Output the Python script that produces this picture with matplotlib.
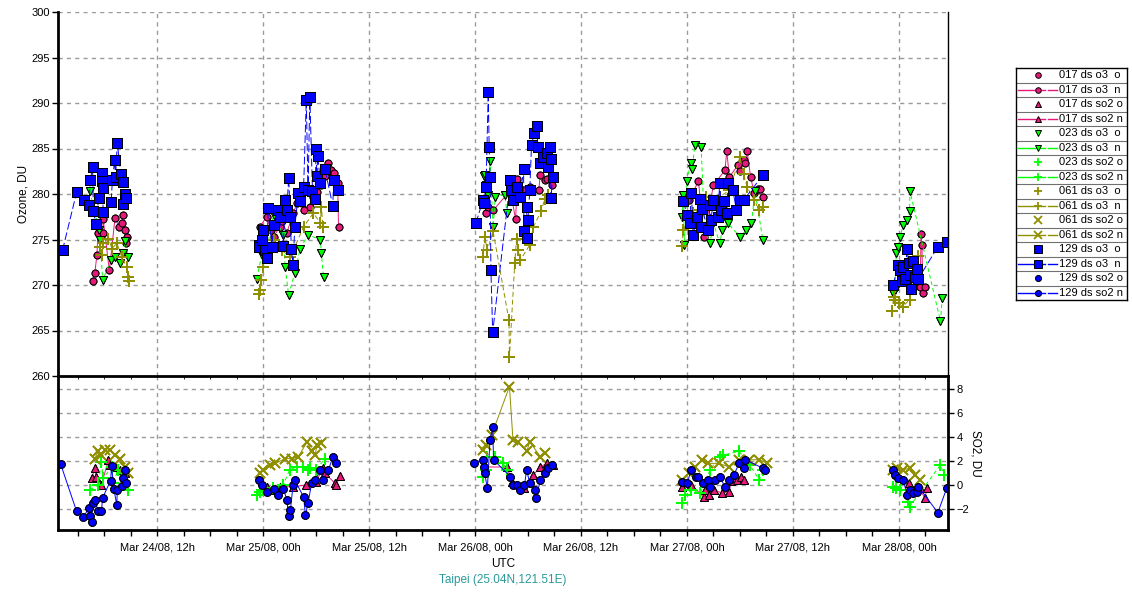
import numpy as np
import matplotlib
matplotlib.use('Agg')
import matplotlib.pyplot as plt

plt.rcParams['font.family'] = ['Liberation Sans', 'DejaVu Sans']

# time axis: hours since Mar 24/08 00h UTC
o3_017_t = [4.7, 4.95, 5.2, 5.3, 5.85, 5.9, 6.6, 7.25, 7.7, 8.0, 8.2, 8.4, 8.5, 8.55,
            23.65, 24.4, 24.9, 25.2, 25.9, 26.2, 26.7, 27.4, 27.9, 28.6, 29.3, 29.7, 30.1, 30.6, 31.0, 31.4, 31.65, 32.0, 32.45, 32.55,
            49.3, 49.5, 50.05, 52.0, 52.6, 52.8, 53.5, 54.2, 55.2, 55.4, 55.9, 56.1, 56.7,
            72.2, 73.3, 73.9, 75.0, 76.3, 76.5, 76.8, 77.8, 78.0, 78.4, 78.6, 78.8, 79.2, 79.6, 80.0, 80.3, 80.6,
            97.7, 98.4, 98.5, 98.6, 98.7, 98.9]
o3_017_v = [270.4, 271.3, 273.3, 275.7, 275.7, 277.3, 271.6, 277.4, 276.4, 276.8, 277.7, 276.0, 274.6, 275.3,
            276.4, 277.5, 276.0, 275.3, 276.4, 277.0, 275.7, 277.9, 279.0, 278.2, 278.6, 279.7, 280.2, 281.0, 282.0, 283.4, 282.6, 282.3, 281.2, 276.4,
            277.9, 278.6, 278.2, 280.4, 277.2, 281.7, 280.4, 280.8, 280.4, 282.1, 281.5, 281.7, 281.0,
            279.3, 281.4, 275.3, 281.0, 282.6, 284.7, 281.9, 283.2, 282.5, 283.7, 283.4, 284.7, 281.9, 280.1, 280.6, 280.6, 279.7,
            272.7, 269.8, 275.6, 274.4, 269.1, 269.8]

o3_023_t = [4.4, 5.45, 5.55, 5.85, 6.75, 7.25, 7.8, 8.2, 8.4, 8.75,
            23.3, 23.85, 24.4, 25.2, 26.3, 26.5, 26.9, 27.6, 28.2, 29.1, 30.5, 30.6, 30.85,
            49.0, 49.1, 49.2, 49.5, 49.7, 50.05, 50.3, 51.4, 51.6,
            71.4, 71.6, 71.7, 72.0, 72.4, 72.6, 72.9, 73.6, 74.0, 74.6, 75.0, 75.7, 76.0, 76.6, 78.0, 78.7, 79.3, 79.7, 80.6,
            95.3, 95.5, 95.7, 95.9, 96.1, 96.5, 96.9, 97.2, 97.25, 100.7, 100.9]
o3_023_v = [280.3, 276.0, 275.0, 270.5, 272.7, 273.1, 272.4, 273.5, 274.8, 273.1,
            270.7, 273.3, 273.8, 277.7, 275.5, 272.0, 268.9, 271.3, 274.0, 275.5, 275.0, 273.5, 270.9,
            282.0, 282.1, 281.0, 279.9, 283.6, 276.4, 279.7, 279.9, 277.9,
            277.5, 279.9, 274.4, 281.4, 283.4, 282.8, 285.4, 285.2, 276.0, 274.6, 276.8, 274.6, 276.0, 276.8, 275.3, 276.0, 276.8, 280.3, 274.9,
            269.1, 269.5, 273.5, 274.2, 275.3, 276.6, 277.1, 278.1, 280.3, 266.0, 268.6]

o3_061_t = [5.55, 5.75, 5.9, 6.5, 6.9, 7.45, 8.0, 8.55, 8.75, 8.8,
            23.5, 23.65, 23.8, 24.0, 25.2, 26.1, 27.1, 28.6, 29.7, 30.5, 30.6, 30.8,
            48.9, 49.1, 49.4, 50.05, 51.85, 51.9, 52.5, 52.7, 52.9, 53.1, 54.2, 54.6, 55.5, 55.9, 56.3,
            71.4, 71.6, 72.0, 72.7, 73.5, 74.2, 74.8, 75.7, 76.8, 78.0, 78.4, 78.8, 79.6, 80.2, 80.6,
            95.2, 95.4, 95.6, 96.0, 96.4, 97.2, 98.0, 98.2]
o3_061_v = [274.2, 273.3, 274.6, 275.1, 274.0, 274.6, 273.1, 272.0, 270.9, 270.4,
            269.0, 269.5, 270.5, 272.0, 274.9, 273.8, 273.1, 276.4, 277.9, 276.8, 278.6, 276.4,
            273.1, 275.3, 273.8, 275.9, 266.1, 262.1, 272.4, 275.1, 273.8, 272.7, 274.4, 276.4, 278.1, 279.5, 279.9,
            274.3, 276.0, 277.1, 277.9, 278.2, 279.7, 279.2, 279.7, 280.4, 284.1, 282.2, 280.8, 279.3, 278.2, 278.6,
            267.1, 268.7, 268.4, 268.0, 267.6, 268.4, 272.0, 273.2]

o3_129_t = [1.3, 2.9, 3.7, 4.3, 4.45, 4.7, 4.8, 5.1, 5.4, 5.75, 5.8, 5.85, 5.9, 6.8, 6.95, 7.2, 7.3, 7.5, 7.9, 8.1, 8.2, 8.4, 8.45,
            23.5, 23.6, 23.85, 24.0, 24.2, 24.4, 24.6, 25.0, 25.2, 25.7, 25.9, 26.3, 26.5, 26.7, 26.9, 27.1, 27.2, 27.4,
            27.6, 28.0, 28.2, 28.6, 28.9, 29.1, 29.3, 29.6, 29.9, 30.0, 30.1, 30.2, 30.5, 31.0, 31.9, 32.0, 32.5,
            48.1, 48.9, 49.0, 49.25, 49.5, 49.6, 49.7, 49.8, 50.0, 52.0, 52.1, 52.3, 52.7, 53.1, 53.5, 53.55, 53.85,
            53.9, 54.0, 54.2, 54.4, 54.7, 55.0, 55.1, 55.4, 55.75, 56.1, 56.3, 56.5, 56.55, 56.6, 56.8,
            71.6, 72.0, 72.3, 72.5, 72.7, 73.1, 73.5, 73.6, 73.7, 74.4, 74.6, 74.7, 75.0, 75.5, 75.7, 75.9, 76.2,
            76.5, 76.65, 77.2, 77.6, 78.0, 78.4, 80.6,
            95.35, 95.9, 96.1, 96.3, 96.5, 96.7, 96.9, 97.1, 97.3, 97.4, 97.6, 97.8, 98.0, 98.2, 100.4, 101.4]
o3_129_v = [273.8, 280.2, 279.3, 278.8, 281.5, 283.0, 278.1, 276.7, 279.6, 282.3, 281.4, 280.7, 278.0, 279.1, 281.5, 283.7, 281.9, 285.6, 282.2, 281.3, 278.9, 280.0, 279.6,
            274.4, 274.2, 274.9, 276.0, 273.8, 273.0, 278.5, 274.2, 276.6, 278.2, 277.5, 274.3, 279.3, 278.2, 281.8, 277.5, 274.0, 272.2,
            276.4, 280.1, 279.2, 280.8, 290.3, 280.4, 290.7, 280.3, 279.5, 285.0, 282.0, 284.2, 281.2, 282.8, 278.7, 281.5, 280.4,
            276.8, 279.3, 279.0, 280.8, 291.2, 285.2, 281.9, 271.7, 264.8, 281.5, 280.4, 279.3, 280.8, 279.7, 282.7, 275.9, 278.6,
            275.2, 277.1, 280.4, 285.4, 286.7, 287.5, 285.2, 283.4, 284.1, 284.5, 283.0, 285.2, 283.9, 279.6, 281.9,
            279.2, 277.7, 276.8, 280.1, 275.5, 277.5, 279.5, 276.4, 278.4, 276.0, 278.8, 277.1, 279.3, 277.5, 281.2, 278.2, 279.2,
            277.9, 281.2, 280.4, 278.2, 279.3, 279.3, 282.1,
            270.0, 272.2, 271.6, 270.4, 272.0, 270.7, 274.0, 272.4, 271.1, 269.6, 272.6, 270.9, 271.8, 270.7, 274.2, 274.7]

so2_017_t = [4.6, 4.95, 5.1, 5.7, 6.5, 6.7, 7.25, 7.8, 8.4,
             24.4, 25.2, 25.9, 27.4, 28.9, 30.0, 30.8, 31.0, 32.15, 32.3, 32.7,
             49.1, 51.6, 52.2, 53.5, 54.6, 55.4, 56.1, 56.8,
             71.4, 72.5, 73.9, 74.0, 74.5, 75.1, 76.0, 76.8, 77.0, 77.7, 78.1, 78.5,
             97.1, 97.7, 98.4, 98.9, 99.2]
so2_017_v = [0.55, 1.4, 0.7, 0.0, 2.1, 1.67, 1.5, 1.25, 0.97,
             -0.14, -0.4, -0.14, -0.14, 0.0, 0.28, 1.4, 1.0, 0.14, 0.0, 0.75,
             1.5, 1.5, 0.28, -0.28, 0.83, 1.5, 1.8, 1.67,
             -0.14, 0.0, -1.0, -0.4, -0.8, -0.4, -0.7, -0.55, 0.3, 0.42, 0.7, 0.42,
             0.14, -0.4, -0.28, -1.1, -0.28]

so2_023_t = [4.4, 5.35, 5.7, 5.9, 6.85, 7.0, 7.6, 8.0, 8.75,
             23.3, 23.7, 24.0, 25.1, 26.3, 27.0, 27.8, 28.5, 29.1, 29.3, 30.0, 31.0,
             48.9, 49.3, 49.35, 50.3, 51.2, 51.6,
             71.4, 71.8, 72.5, 73.5, 74.6, 75.7, 76.1, 77.9, 79.1, 80.2, 80.6,
             95.3, 95.7, 96.1, 97.0, 97.2, 100.7, 101.1]
so2_023_v = [-0.4, 0.0, 1.95, 0.55, 1.5, 0.14, 1.25, 1.0, -0.4,
             -0.83, -0.6, -0.4, -0.28, 0.0, 1.25, 1.5, 1.5, 1.25, 1.4, 1.25, 2.2,
             0.7, 1.25, 2.36, 2.36, 1.8, 1.25,
             -1.5, -0.83, -0.4, -0.7, 1.25, 2.36, 2.5, 2.8, 1.67, 0.42, 1.25,
             -0.14, -0.28, -0.4, -1.4, -1.8, 1.67, 0.83]

so2_061_t = [4.95, 5.35, 5.7, 6.1, 6.7, 7.25, 7.8, 8.4, 8.75,
             23.65, 24.0, 24.8, 25.4, 26.5, 27.25, 28.0, 29.0, 29.5, 29.9, 30.1, 30.6,
             48.9, 49.3, 49.9, 51.9, 52.3, 52.9, 53.85, 54.2, 55.4, 55.9,
             71.4, 72.2, 72.9, 73.7, 74.4, 75.6, 76.8, 77.9, 79.0, 80.2, 81.1,
             95.3, 95.8, 96.4, 97.2, 97.8, 98.4]
so2_061_v = [2.2, 2.8, 2.5, 2.9, 2.9, 2.5, 2.2, 1.5, 0.97,
             1.0, 1.25, 1.67, 1.8, 2.2, 2.2, 2.36, 3.6, 2.8, 2.5, 3.3, 3.5,
             2.9, 3.3, 4.2, 8.2, 3.75, 3.6, 2.8, 3.6, 2.36, 2.64,
             0.42, 1.0, 1.5, 2.1, 1.8, 1.8, 1.5, 2.1, 2.1, 2.1, 1.8,
             1.25, 1.4, 1.25, 1.4, 0.83, 0.42]

so2_129_t = [1.1, 2.9, 3.65, 4.3, 4.4, 4.6, 4.7, 4.95, 5.35, 5.7, 5.85, 6.75, 6.85, 7.1, 7.45, 7.5, 8.0, 8.2, 8.4, 8.5,
             23.5, 23.85, 24.4, 25.2, 25.7, 26.3, 26.7, 26.9, 27.1, 27.4, 27.6, 28.6, 28.8, 29.1, 29.5, 29.9, 30.5, 30.8, 31.4, 31.9, 32.3,
             47.9, 48.85, 49.0, 49.1, 49.4, 49.7, 50.0, 50.1, 52.0, 52.3, 52.7, 53.1, 53.6, 53.85, 54.2, 54.8, 54.9, 55.4, 55.9, 56.3, 56.7,
             71.4, 72.0, 72.5, 73.0, 73.3, 73.8, 74.4, 74.6, 75.2, 75.7, 76.3, 76.8, 77.3, 77.9, 78.4, 78.6, 80.6, 80.8,
             95.3, 95.6, 95.9, 96.5, 96.9, 97.2, 97.6, 98.0, 98.2, 100.4, 101.4]
so2_129_v = [1.72, -2.2, -2.7, -1.9, -2.6, -3.1, -1.5, -1.25, -2.2, -2.2, -1.05, 0.36, 1.6, -0.3, -1.67, -0.4, -0.1, 0.55, 1.25, 0.14,
             0.42, 0.0, -0.55, -0.3, -0.8, -0.3, -1.25, -2.6, -2.1, 0.0, 0.4, -1.0, -2.5, -1.5, 0.14, 0.4, 1.25, 0.4, 1.25, 2.3, 1.8,
             1.86, 2.1, 1.5, 0.97, -0.28, 3.75, 4.8, 2.1, 0.7, 0.0, 0.0, -0.4, 0.0, 1.25, 0.14, -0.4, -1.1, 0.4, 1.0, 1.4, 1.67,
             0.28, 0.14, 1.25, 0.7, 0.7, 0.14, 0.4, -0.14, 0.4, 0.7, -0.14, 0.42, 0.83, 1.8, 1.4, 2.1, 1.4, 1.25,
             1.25, 0.83, 0.55, 0.42, -0.83, -0.4, -0.7, -0.55, -0.14, -2.3, -0.28]

x_ticks = [12, 24, 36, 48, 60, 72, 84, 96]
x_labels = ['Mar 24/08, 12h', 'Mar 25/08, 00h', 'Mar 25/08, 12h', 'Mar 26/08, 00h',
            'Mar 26/08, 12h', 'Mar 27/08, 00h', 'Mar 27/08, 12h', 'Mar 28/08, 00h']

PINK = '#E6197A'
GREEN = '#00FF00'
OLIVE = '#8F8F00'
BLUE = '#0000FF'


def breaks(t, v, gap=6.0):
    # sort by time and cut the line between the daily overpass groups
    t = np.asarray(t, float)
    v = np.asarray(v, float)
    order = np.argsort(t, kind='stable')
    t, v = t[order], v[order]
    idx = np.where(np.diff(t) > gap)[0] + 1
    return np.insert(t, idx, np.nan), np.insert(v, idx, np.nan)


fig = plt.figure(figsize=(11.32, 6.03), dpi=100)
ax1 = fig.add_axes([58 / 1132, 1 - 376 / 603, 890 / 1132, 364 / 603])
ax2 = fig.add_axes([58 / 1132, 1 - 530 / 603, 890 / 1132, 154 / 603], sharex=ax1)
ax2.set_facecolor('none')

# (label, axis, t, v, colour, marker, size, linestyle)
series = [
    ('017 ds o3  o', ax1, o3_017_t, o3_017_v, PINK, 'o', 5, None),
    ('017 ds o3  n', ax1, o3_017_t, o3_017_v, PINK, 'o', 5, '-'),
    ('017 ds so2 o', ax2, so2_017_t, so2_017_v, PINK, '^', 6, None),
    ('017 ds so2 n', ax2, so2_017_t, so2_017_v, PINK, '^', 6, '-'),
    ('023 ds o3  o', ax1, o3_023_t, o3_023_v, GREEN, 'v', 6, None),
    ('023 ds o3  n', ax1, o3_023_t, o3_023_v, GREEN, 'v', 6, (0, (4, 3))),
    ('023 ds so2 o', ax2, so2_023_t, so2_023_v, GREEN, '+', 8, None),
    ('023 ds so2 n', ax2, so2_023_t, so2_023_v, GREEN, '+', 8, (0, (4, 3))),
    ('061 ds o3  o', ax1, o3_061_t, o3_061_v, OLIVE, '+', 8, None),
    ('061 ds o3  n', ax1, o3_061_t, o3_061_v, OLIVE, '+', 8, (0, (5, 3))),
    ('061 ds so2 o', ax2, so2_061_t, so2_061_v, OLIVE, 'x', 7, None),
    ('061 ds so2 n', ax2, so2_061_t, so2_061_v, OLIVE, 'x', 7, '-'),
    ('129 ds o3  o', ax1, o3_129_t, o3_129_v, BLUE, 's', 6.5, None),
    ('129 ds o3  n', ax1, o3_129_t, o3_129_v, BLUE, 's', 6.5, (0, (8, 3))),
    ('129 ds so2 o', ax2, so2_129_t, so2_129_v, BLUE, 'o', 5.5, None),
    ('129 ds so2 n', ax2, so2_129_t, so2_129_v, BLUE, 'o', 5.5, '-'),
]


def mstyle(color, marker, ms):
    if marker in ('+', 'x'):
        return dict(marker=marker, ms=ms, mec=color, mew=1.3)
    return dict(marker=marker, ms=ms, mfc=color, mec='black', mew=0.7)


for label, ax, t, v, color, marker, ms, ls in series:
    tt, vv = breaks(t, v)
    if ls is None:
        ax.plot(tt, vv, ls='none', **mstyle(color, marker, ms))
    else:
        ax.plot(tt, vv, color=color, lw=0.7, ls=ls, **mstyle(color, marker, ms))

grid_kw = dict(color='#9A9A9A', ls=(0, (3, 3)), lw=1)

ax1.set_xlim(0.79, 101.55)
ax1.set_ylim(260, 300)
ax1.set_yticks(range(260, 301, 5))
ax1.set_xticks(x_ticks)
ax1.tick_params(axis='x', bottom=False, labelbottom=False)
ax1.tick_params(axis='y', length=4, width=1, labelsize=8, pad=2)
ax1.grid(True, **grid_kw)
ax1.set_ylabel('Ozone, DU', fontsize=8.5, labelpad=1)
ax1.spines['top'].set_visible(False)
ax1.spines['left'].set_linewidth(2)
ax1.spines['bottom'].set_linewidth(2)
ax1.spines['right'].set_linewidth(1)
ax1.set_zorder(3)
ax1.patch.set_visible(False)

ax2.set_ylim(-3.75, 9.08)
ax2.yaxis.tick_right()
ax2.yaxis.set_label_position('right')
ax2.set_yticks([-2, 0, 2, 4, 6, 8])
ax2.set_xticks(x_ticks)
ax2.set_xticklabels(x_labels)
ax2.set_xticks(np.arange(3, 101, 3), minor=True)
ax2.tick_params(axis='x', which='both', length=4, width=1, labelsize=8, pad=5)
ax2.tick_params(axis='y', length=4, width=1, labelsize=8, pad=2)
ax2.grid(True, **grid_kw)
ax2.set_ylabel('SO2, DU', fontsize=8.5, rotation=270, labelpad=9)
ax2.set_xlabel('UTC', fontsize=8.5, labelpad=4)
ax2.spines['top'].set_visible(False)
for side in ('left', 'bottom', 'right'):
    ax2.spines[side].set_linewidth(2)

fig.text(503 / 1132, 1 - 580 / 603, 'Taipei (25.04N,121.51E)', color='#2A9A9A',
         fontsize=8.5, ha='center', va='center')

# legend drawn as a small table of rows
lax = fig.add_axes([1016 / 1132, 1 - 300 / 603, 111 / 1132, 232 / 603])
lax.set_xlim(0, 111)
lax.set_ylim(len(series), 0)
lax.set_xticks([])
lax.set_yticks([])
for s in lax.spines.values():
    s.set_linewidth(1)
for i, (label, ax, t, v, color, marker, ms, ls) in enumerate(series):
    y = i + 0.5
    if i > 0:
        lax.axhline(i, color='#707070', lw=0.8)
    if ls is not None:
        lax.plot([2, 29], [y, y], color=color, lw=1)
        lax.plot([32, 41], [y, y], color=color, lw=1)
    lax.plot([22], [y], ls='none', **mstyle(color, marker, ms * 0.8))
    lax.text(43, y, label, fontsize=8, va='center', ha='left')

fig.savefig('out.png', dpi=100)
